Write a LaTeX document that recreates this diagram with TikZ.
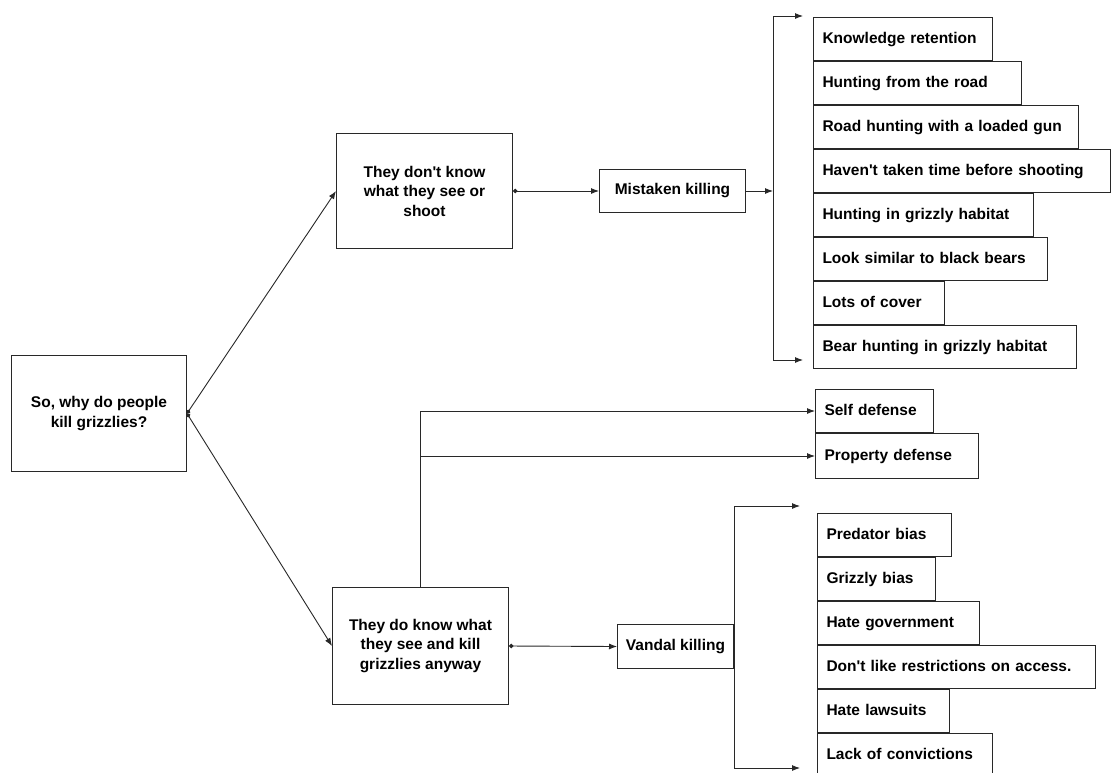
\documentclass[tikz,border=0pt]{standalone}
\usepackage{fontspec}
\setmainfont{Liberation Sans}
\usetikzlibrary{arrows.meta}
\definecolor{inkgray}{RGB}{40,40,40}

\begin{document}
\begin{tikzpicture}[
  x=1pt, y=-1pt,
  font=\fontsize{15.5}{19.5}\selectfont\bfseries,
  box/.style={draw=inkgray, line width=1pt, anchor=north west, align=center, inner sep=2pt},
  item/.style={draw=inkgray, line width=1pt, anchor=north west, minimum height=43pt,
    inner xsep=9pt, align=left, text height=12pt, text depth=3.5pt},
  arr/.style={-{Latex[length=8pt, width=6pt]}, line width=0.9pt, inkgray},
  dotarr/.style={arr, {Circle[length=4.5pt]}-{Latex[length=8pt, width=6pt]}},
]
  \useasboundingbox[fill=white] (0,0) rectangle (1111,772);

  % main boxes
  \node[box, minimum width=175pt, minimum height=116pt] (why)    at (11,355)  {So, why do people\\kill grizzlies?};
  \node[box, minimum width=176pt, minimum height=115pt] (dont)   at (336,133) {They don\textquotesingle t know\\what they see or\\shoot};
  \node[box, minimum width=146pt, minimum height=43pt]  (mist)   at (599,169) {Mistaken killing};
  \node[box, minimum width=176pt, minimum height=117pt] (doknow) at (332,587) {They do know what\\they see and kill\\grizzlies anyway};
  \node[box, minimum width=116pt, minimum height=44pt]  (vand)   at (617,624) {Vandal killing};

  % mistaken killing reasons
  \node[item, text width=161pt] (m1) at (813,17)         {Knowledge retention};
  \node[item, text width=190pt] (m2) at (m1.south west) {Hunting from the road};
  \node[item, text width=247pt] (m3) at (m2.south west) {Road hunting with a loaded gun};
  \node[item, text width=279pt] (m4) at (m3.south west) {Haven\textquotesingle t taken time before shooting};
  \node[item, text width=202pt] (m5) at (m4.south west) {Hunting in grizzly habitat};
  \node[item, text width=216pt] (m6) at (m5.south west) {Look similar to black bears};
  \node[item, text width=113pt] (m7) at (m6.south west) {Lots of cover};
  \node[item, text width=245pt] (m8) at (m7.south west) {Bear hunting in grizzly habitat};

  % defense
  \node[item, text width=100pt]  (self) at (815,389)          {Self defense};
  \node[item, text width=145pt, minimum height=45pt] (prop) at (self.south west) {Property defense};

  % vandal killing reasons
  \node[item, text width=116pt] (v1) at (817,513)         {Predator bias};
  \node[item, text width=100pt] (v2) at (v1.south west) {Grizzly bias};
  \node[item, text width=144pt] (v3) at (v2.south west) {Hate government};
  \node[item, text width=260pt] (v4) at (v3.south west) {Don\textquotesingle t like restrictions on access.};
  \node[item, text width=114pt] (v5) at (v4.south west) {Hate lawsuits};
  \node[item, text width=157pt] (v6) at (v5.south west) {Lack of convictions};

  % connectors
  \draw[dotarr] (why.east) -- (dont.west);
  \draw[dotarr] (why.east) -- (doknow.west);
  \draw[dotarr] (dont.east) -- (mist.west);

  \coordinate (mbar) at (773,191);
  \coordinate (mtop) at (803,16);
  \coordinate (mbot) at (803,360);
  \draw[arr] (mist.east) -- (mbar);
  \draw[arr] (mbar) |- (mtop);
  \draw[arr] (mbar) |- (mbot);

  \draw[arr] (doknow.north) |- (self.west);
  \draw[arr] (doknow.north |- prop.west) -- (prop.west);
  \draw[dotarr] (doknow.east) -- (vand.west);

  \coordinate (vtop) at (800,506);
  \coordinate (vbot) at (800,768);
  \draw[arr] (vand.east) |- (vtop);
  \draw[arr] (vand.east) |- (vbot);
\end{tikzpicture}
\end{document}
